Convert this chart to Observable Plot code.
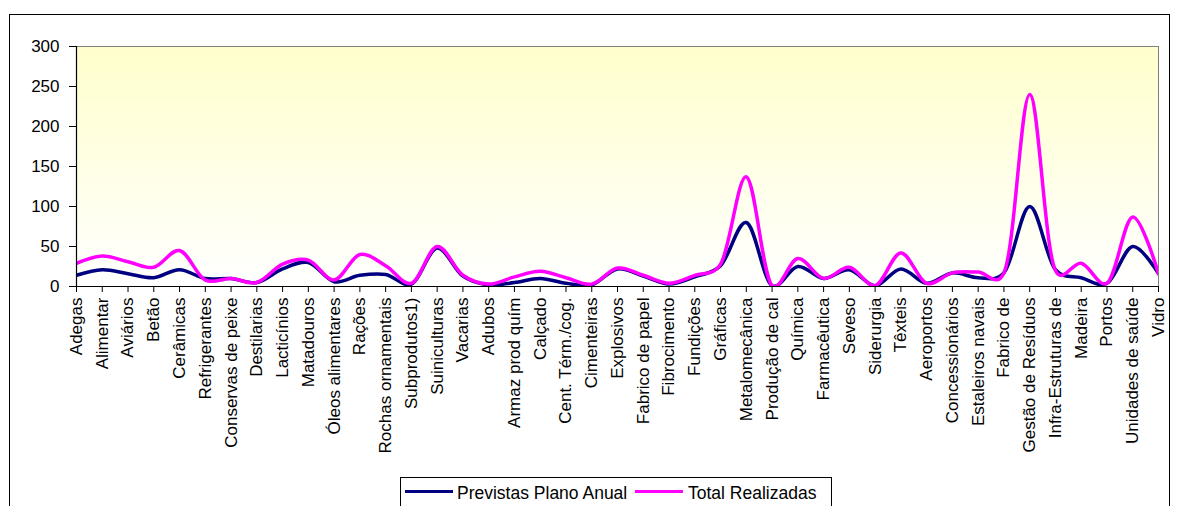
<!DOCTYPE html>
<html><head><meta charset="utf-8">
<script src="https://cdn.jsdelivr.net/npm/d3@7"></script>
<script src="https://cdn.jsdelivr.net/npm/@observablehq/plot@0.6"></script>
<style>
body{margin:0;background:#fff;font-family:"Liberation Sans",Arial,sans-serif;}
#wrap{position:relative;width:1178px;height:506px;overflow:hidden;}
#box{position:absolute;left:9px;top:14px;width:1161px;height:540px;border:1px solid #000;box-sizing:border-box;}
#chart{position:absolute;left:0;top:0;}
#legend{position:absolute;left:400px;top:477px;width:432px;height:40px;border:1px solid #000;box-sizing:border-box;background:#fff;font-size:17.5px;line-height:1;color:#000;}
#legend .sw{position:absolute;top:12px;height:3px;}
#legend .tx{position:absolute;top:7px;white-space:nowrap;}
</style></head><body>
<div id="wrap"><div id="box"></div><div id="chart"></div>
<div id="legend">
<span class="sw" style="left:4px;width:48px;background:#000080"></span><span class="tx" style="left:56px">Previstas Plano Anual</span>
<span class="sw" style="left:234px;width:48px;background:#ff00ff"></span><span class="tx" style="left:287px">Total Realizadas</span>
</div></div>
<script>
const categories = ["Adegas","Alimentar","Aviários","Betão","Cerâmicas","Refrigerantes","Conservas de peixe","Destilarias","Lacticínios","Matadouros","Óleos alimentares","Rações","Rochas ornamentais","Subprodutos1)","Suiniculturas","Vacarias","Adubos","Armaz prod quím","Calçado","Cent. Térm./cog.","Cimenteiras","Explosivos","Fabrico de papel","Fibrocimento","Fundições","Gráficas","Metalomecânica","Produção de cal","Química","Farmacêutica","Seveso","Siderurgia","Têxteis","Aeroportos","Concessionários","Estaleiros navais","Fabrico de","Gestão de Resíduos","Infra-Estruturas de","Madeira","Portos","Unidades de saúde","Vidro"];
const previstas = [14,21,16,11,21,10,10,5,22,30,6,14,15,3,48,13,2,5,10,4,2,22,13,3,12,26,80,1,25,10,21,1,22,4,17,11,17,100,21,11,4,50,16];
const realizadas = [29,38,31,24,45,8,10,5,28,33,8,40,26,4,50,14,3,12,19,11,3,23,14,4,14,28,137,1,35,10,24,1,42,4,17,18,17,240,20,29,4,87,16];
const seriesNames = ["Previstas Plano Anual","Total Realizadas"];
const yTicks = [0,50,100,150,200,250,300];

const data = [];
categories.forEach((c,i)=>data.push({cat:c, value:previstas[i], series:seriesNames[0]}));
categories.forEach((c,i)=>data.push({cat:c, value:realizadas[i], series:seriesNames[1]}));

const plot = Plot.plot({
  width:1178, height:506, marginLeft:76, marginRight:20, marginTop:46, marginBottom:220,
  style:{fontFamily:"'Liberation Sans', Arial, sans-serif", fontSize:"17px", color:"#000", background:"transparent", overflow:"visible"},
  x:{type:"point", domain:categories, padding:0, label:null},
  y:{domain:[0,300], label:null},
  color:{domain:seriesNames, range:["#000080","#ff00ff"]},
  marks:[
    Plot.frame({fill:"url(#bg)", stroke:"#808080"}),
    Plot.axisY({ticks:yTicks, tickSize:7, tickPadding:10, label:null, fontSize:17}),
    Plot.axisX({tickRotate:-90, tickSize:6, tickPadding:5, label:null, fontSize:17}),
    Plot.line(data, {x:"cat", y:"value", stroke:"series", z:"series", curve:d3.curveCatmullRom.alpha(0.2), strokeWidth:3.5, clip:true}),
    Plot.ruleX([categories[0]], {stroke:"#000", strokeWidth:1.2}),
    Plot.ruleY([0], {stroke:"#000", strokeWidth:1.2})
  ]
});
const ns = "http://www.w3.org/2000/svg";
const defs = document.createElementNS(ns,"defs");
defs.innerHTML = '<linearGradient id="bg" x1="0" y1="0" x2="0" y2="1"><stop offset="0" stop-color="#ffffcc"/><stop offset="1" stop-color="#ffffff"/></linearGradient>';
plot.insertBefore(defs, plot.firstChild);
document.getElementById("chart").appendChild(plot);
</script>
</body></html>
